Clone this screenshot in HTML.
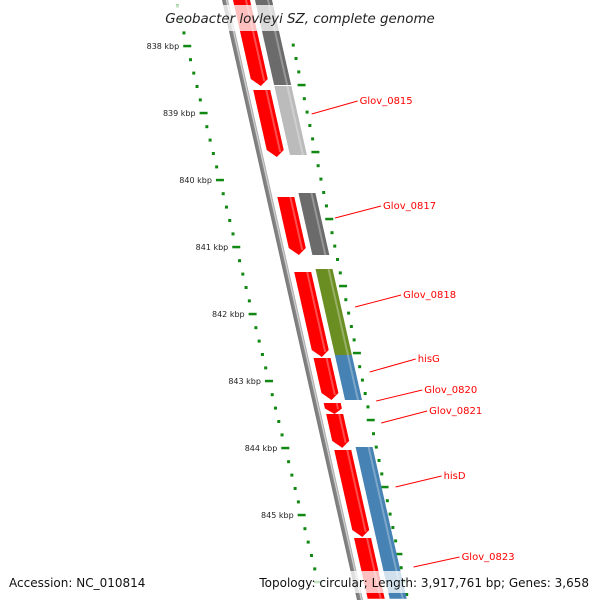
<!DOCTYPE html>
<html><head><meta charset="utf-8"><style>
html,body{margin:0;padding:0;background:#fff;overflow:hidden;width:600px;height:600px;}
svg{display:block;font-family:"DejaVu Sans","Liberation Sans",sans-serif;overflow:hidden;}
</style></head><body>
<svg id="chart" width="600" height="600" viewBox="0 0 600 600" xmlns="http://www.w3.org/2000/svg">
<defs>
<linearGradient id="gb" x1="0" x2="1"><stop offset="0" stop-color="#777"/><stop offset="0.6" stop-color="#888"/><stop offset="0.7" stop-color="#ddd"/><stop offset="1" stop-color="#999"/></linearGradient>
<clipPath id="cp"><rect x="0" y="0" width="600" height="600"/></clipPath>
</defs>
<g clip-path="url(#cp)">
<g id="rulers"></g>
<g id="band" transform="translate(222,0) skewX(12.68)"></g>
<g id="labels"></g>
</g>
<rect x="160" y="5" width="280" height="26" fill="#fff" opacity="0.75"/>
<text x="300" y="23" text-anchor="middle" font-size="13.4" font-style="italic" fill="#222">Geobacter lovleyi SZ, complete genome</text>
<rect x="0" y="571" width="600" height="22" fill="#fff" opacity="0.75"/>
<text x="9" y="587" font-size="12" fill="#111">Accession: NC_010814</text>
<text x="589" y="587" text-anchor="end" font-size="12" fill="#111">Topology: circular; Length: 3,917,761 bp; Genes: 3,658</text>
</svg>
<script>
// gene data (positions in kbp)
const geneStarts = [837.30, 838.657, 840.254, 841.373, 842.657, 843.328, 843.493, 844.03, 845.343, 837.30, 838.597, 840.194, 841.328, 842.612, 843.985];
const geneEnds   = [838.597, 839.657, 841.119, 842.642, 843.284, 843.493, 843.999, 845.328, 846.25, 838.582, 839.627, 841.119, 842.612, 843.284, 846.25];
const geneLanes  = [0,0,0,0,0,0,0,0,0,1,1,1,1,1,1];
const geneColors = ["#ff0000","#ff0000","#ff0000","#ff0000","#ff0000","#ff0000","#ff0000","#ff0000","#ff0000","#6b6b6b","#bbbbbb","#6b6b6b","#6b8e23","#4682b4","#4682b4"];
const geneArrow  = [1,1,1,1,1,1,1,1,0,0,0,0,0,0,0];
const tickLabels = [838,839,840,841,842,843,844,845];
const labelNames = ["Glov_0815","Glov_0817","Glov_0818","hisG","Glov_0820","Glov_0821","hisD","Glov_0823"];
const labelPos   = [839.015, 840.567, 841.896, 842.866, 843.299, 843.627, 844.582, 845.776];
const labelTextY = [101, 206, 295, 359, 390, 411, 476, 557];

const NS="http://www.w3.org/2000/svg";
function Y(k){return 46+(k-838)*67;}
function leftX(y){return 176+0.244*y;}
function rightX(y){return 284+0.2065*y;}
function mk(t,a,p){const e=document.createElementNS(NS,t);for(const k in a)e.setAttribute(k,a[k]);p.appendChild(e);return e;}
const band=document.getElementById('band'), rul=document.getElementById('rulers'), lab=document.getElementById('labels');

const bb=mk('rect',{x:0,y:-10,width:6,height:610,fill:'url(#gb)'},band);



const laneX=[[11,28],[33,50]];
for(let i=0;i<geneStarts.length;i++){
  const y0=Y(geneStarts[i]), y1=Math.min(600,Y(geneEnds[i]));
  const [a,b]=laneX[geneLanes[i]];
  const g=mk('g',{},band);
  
  
  let pts;
  if(geneArrow[i]){
    const h=Math.min(7,(y1-y0)/2), m=(a+b)/2;
    pts=`${a},${y0} ${b},${y0} ${b},${y1-h} ${m},${y1} ${a},${y1-h}`;
  } else pts=`${a},${y0} ${b},${y0} ${b},${y1} ${a},${y1}`;
  mk('polygon',{points:pts,fill:geneColors[i]},g);
  mk('rect',{x:b-5,y:y0,width:2,height:Math.max(0,y1-y0-(geneArrow[i]?5:0)),fill:'#fff',opacity:0.3},g);
}

for(let k=837.4;k<=846.1;k+=0.2){
  const kk=Math.round(k*10)/10;
  const major=Math.abs(kk-Math.round(kk))<0.01;
  const y=Y(kk);
  const xl=leftX(y);
  if(y>=0&&y<=600){
  const d=mk('rect',{x:xl-(major?4:1.5),y:y-1.2,width:major?8:3,height:major?2.5:3,fill:'#118811'},rul);
  
  
  }
  const yr=y+39, xr=rightX(yr);
  if(yr>=0&&yr<=598){
  const r=mk('rect',{x:xr-(major?4:1.5),y:yr-1.2,width:major?8:3,height:major?2.5:3,fill:'#118811'},rul);
  
  
  }
}
tickLabels.forEach(k=>{
  const y=Y(k);
  const t=mk('text',{x:leftX(y)-8,y:y+3,'text-anchor':'end','font-size':8,fill:'#222'},rul);
  t.textContent=k+' kbp';
  
  
});

labelNames.forEach((n,i)=>{
  const y=Y(labelPos[i]);
  const x0=222+0.225*y+64;
  const ty=labelTextY[i];
  const tx=x0+46;
  const l=mk('line',{x1:x0,y1:y,x2:tx,y2:ty,stroke:'#ff0000','stroke-width':1},lab);
  
  
  const t=mk('text',{x:tx+2,y:ty+3,'font-size':10,fill:'#ff0000'},lab);
  t.textContent=n;
  
  
});
</script>
</body></html>
